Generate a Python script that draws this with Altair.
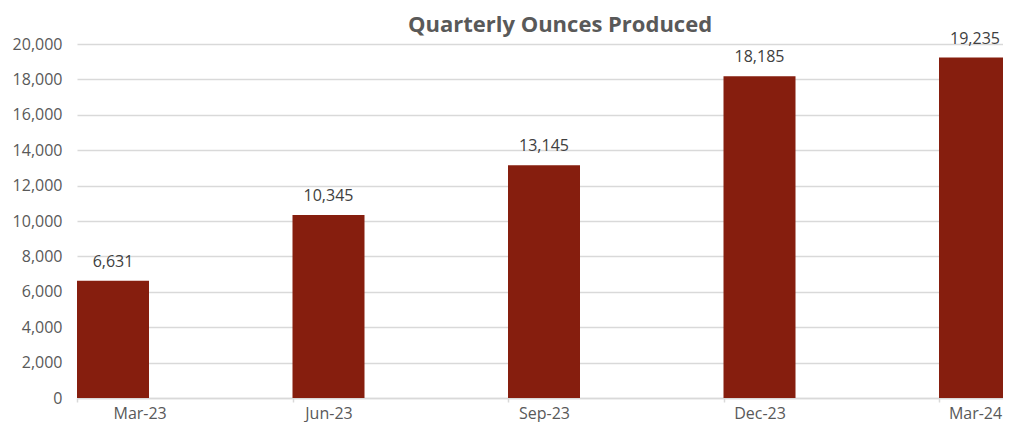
import altair as alt
import pandas as pd

quarters = ["Mar-23", "Jun-23", "Sep-23", "Dec-23", "Mar-24"]
ounces = [6631, 10345, 13145, 18185, 19235]
y_ticks = list(range(0, 20001, 2000))
title_text = ["Quarterly Ounces Produced"]

df = pd.DataFrame({"quarter": quarters, "ounces": ounces})

FONT = "Open Sans"
GREY = "#595959"
GRID = "#d9d9d9"
PLOT_W = 926
PLOT_H = 354
STEP_PX = 215.5     # distance between bar starts in pixels
BAR_PX = 72         # bar width in pixels
q_js = "[" + ",".join(f"'{q}'" for q in quarters) + "]"

x_scale = alt.Scale(domain=[0, PLOT_W / STEP_PX], nice=False, zero=False, padding=0)
x_axis = alt.Axis(values=list(range(len(quarters))), labelExpr=f"{q_js}[datum.value]",
                  labelOffset=BAR_PX / 2, labelAngle=0, labelFontSize=16,
                  labelColor=GREY, labelFont=FONT, labelPadding=3, labelBaseline="top",
                  tickSize=4, tickColor=GRID, tickWidth=1.5,
                  domainColor=GRID, domainWidth=1.5, grid=False)
y = alt.Y(
    "ounces:Q", title=None,
    scale=alt.Scale(domain=[0, 20000], padding=0),
    axis=alt.Axis(values=y_ticks, labelExpr="format(datum.value, ',')", grid=True,
                  gridColor=GRID, gridWidth=1.5, domain=False, ticks=False,
                  labelPadding=15, labelFontSize=16, labelColor=GREY, labelFont=FONT),
)

base = alt.Chart(df).transform_calculate(
    idx=f"indexof({q_js}, datum.quarter)"
).transform_calculate(
    idx_end=f"datum.idx + {BAR_PX / STEP_PX}",
    idx_mid=f"datum.idx + {BAR_PX / STEP_PX / 2}",
)
bars = base.mark_bar(color="#861E0E", clip=True, orient="vertical").encode(
    x=alt.X("idx:Q", scale=x_scale, axis=x_axis, title=None),
    x2="idx_end:Q",
    y=y,
    y2=alt.datum(0),
)
labels = base.mark_text(dy=-14, baseline="alphabetic", fontSize=16, color="#404040",
                        font=FONT).encode(
    x=alt.X("idx_mid:Q", scale=x_scale),
    y=y,
    text=alt.Text("ounces:Q", format=","),
)
title = alt.Chart(pd.DataFrame({"t": title_text})).mark_text(
    fontSize=22, fontWeight="bold", color=GREY, font=FONT,
    baseline="alphabetic", align="center",
).encode(x=alt.value(483), y=alt.value(-12), text="t:N")

chart = (bars + labels + title).properties(
    width=PLOT_W, height=PLOT_H,
    autosize=alt.AutoSizeParams(type="none"),
    padding={"left": 69, "top": 36, "right": 0, "bottom": 24},
).configure_view(stroke=None)

chart.save("out.html", embed_options={"renderer": "svg", "actions": False})
